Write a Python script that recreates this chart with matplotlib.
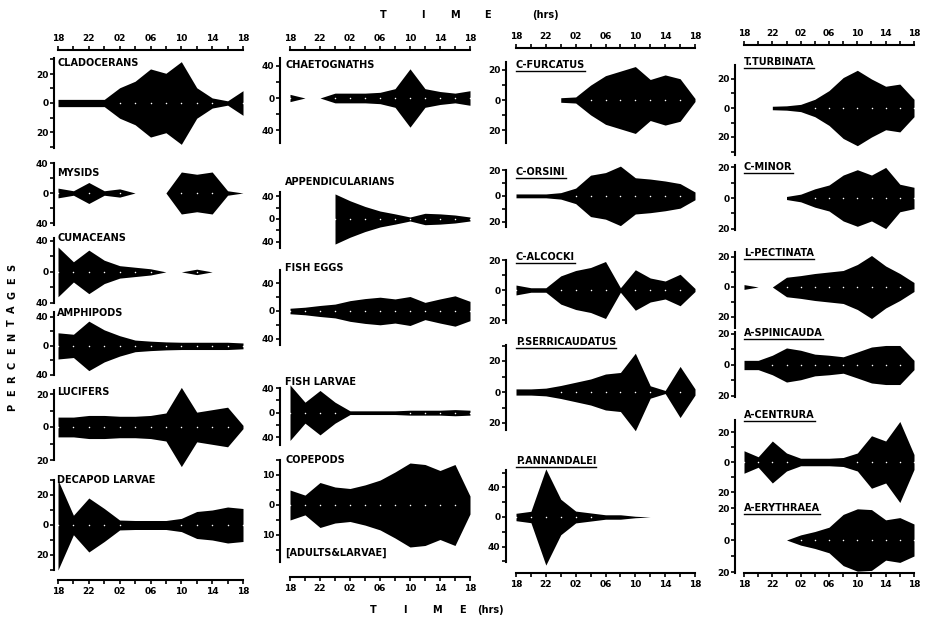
import numpy as np
import matplotlib.pyplot as plt
from matplotlib.lines import Line2D
from matplotlib.ticker import MultipleLocator

W, H = 926, 622
nan = np.nan

# sampling hours counted from 18:00, every 2 h over 24 h
hours = [0, 2, 4, 6, 8, 10, 12, 14, 16, 18, 20, 22, 24]
label_hours = [0, 4, 8, 12, 16, 20, 24]
hour_labels = ["18", "22", "02", "06", "10", "14", "18"]

# half widths of the kites (percentages) at each sampling time
cladocerans = [2.5, 2.5, 2.5, 2.5, 10.5, 15, 23.5, 20.5, 28.5, 10.5, 3.5, 1.5, 8.5]
mysids = [6.5, 3, 14, 3, 5.5, 0, 0, 0, 28, 25, 28, 3, 0]
cumaceans = [32, 13, 28, 15, 8, 6, 4, 0, 0, 3.5, 0, 0, 0]
amphipods = [18, 16, 34, 22, 14, 8, 6.5, 5.5, 5, 5, 5, 5, 4]
lucifers = [6, 6, 7, 7, 6.5, 6.5, 7, 8.5, 24, 9, 10.5, 12, 1]
decapod_larvae = [30, 6.5, 18, 11, 3.3, 3, 3, 3, 4.4, 9, 10, 12, 11]

chaetognaths = [4.5, 0, 0, 6, 6, 6, 7, 11.5, 36, 11.5, 8, 6, 9]
appendicularians = [nan, nan, nan, 44, 32, 22, 14, 9, 3.5, 10, 9, 7, 3.5]
fish_eggs = [4, 5.5, 8, 10, 15, 18, 20, 17.5, 21, 12.5, 17.5, 22, 14]
fish_larvae = [45, 17, 36, 17, 3, 3, 3, 3, 4, 4, 4, 5, 4]
copepods = [5, 3.3, 7.5, 6, 5.5, 6.7, 8.3, 11, 14, 13.5, 11.5, 13.5, 3]

c_furcatus = [nan, nan, nan, 1.5, 2, 9.8, 16, 19, 22, 13.5, 16.5, 14, 1]
c_orsini = [1.5, 1.5, 1.5, 2.5, 6, 16, 18, 23, 14, 13, 11.5, 9.5, 3]
c_alcocki = [3.3, 1.5, 1.5, 9.4, 13, 15, 19, 1.5, 13.5, 8, 6, 10.5, 1]
p_serricaudatus = [2, 2, 2.5, 4.2, 6.3, 8.4, 11.6, 12.6, 25, 4, 1, 16.5, 2]
p_annandalei = [5, 7.7, 65, 24, 8, 5.5, 3, 3, 1, 0, 0, 0, 0]

t_turbinata = [nan, nan, 1.2, 1.5, 2.5, 6, 12, 21, 26, 20, 15, 16.5, 6]
c_minor = [nan, nan, nan, 1, 2.5, 6, 8.5, 15, 18.5, 15, 20, 9, 7]
l_pectinata = [1.6, 0, 0, 6.5, 7.6, 9, 10, 11, 15, 21, 14, 9, 3]
a_spinicauda = [3, 3, 6.3, 11, 9.5, 7, 6.3, 5.3, 8.4, 11.6, 12.6, 12.6, 3]
a_centrura = [7.5, 3.5, 14, 6, 2.5, 2.5, 2.5, 3, 6, 17.5, 14, 27, 5]
a_erythraea = [nan, nan, nan, 0, 3.2, 5.3, 8, 16, 19.5, 19, 12.6, 14, 10]

# layout in pixels: (title, values, zero_y, px_per_unit, spine_top, spine_bottom, tick, title_y)
columns = [
    dict(spine=54, t0=58, t24=243, title_x=57, top_line=50, bottom_line=580, underline=False,
         panels=[("CLADOCERANS", cladocerans, 103, 1.45, 58, 148, 20, 63),
                 ("MYSIDS", mysids, 193, 0.75, 163, 225, 40, 173),
                 ("CUMACEANS", cumaceans, 272, 0.78, 238, 303, 40, 238),
                 ("AMPHIPODS", amphipods, 346, 0.73, 312, 375, 40, 313),
                 ("LUCIFERS", lucifers, 427, 1.65, 390, 460, 20, 392),
                 ("DECAPOD LARVAE", decapod_larvae, 525, 1.5, 480, 570, 20, 480)]),
    dict(spine=280, t0=290, t24=470, title_x=285, top_line=50, bottom_line=577, underline=False,
         panels=[("CHAETOGNATHS", chaetognaths, 98, 0.81, 58, 143, 40, 65),
                 ("APPENDICULARIANS", appendicularians, 219, 0.57, 192, 248, 40, 182),
                 ("FISH EGGS", fish_eggs, 311, 0.69, 270, 345, 40, 268),
                 ("FISH LARVAE", fish_larvae, 412, 0.63, 388, 445, 40, 382),
                 ("COPEPODS", copepods, 505, 3.0, 460, 562, 10, 460)]),
    dict(spine=506, t0=516, t24=695, title_x=516, top_line=48, bottom_line=573, underline=True,
         panels=[("C-FURCATUS", c_furcatus, 100, 1.52, 62, 143, 20, 65),
                 ("C-ORSINI", c_orsini, 195, 1.33, 170, 227, 20, 172),
                 ("C-ALCOCKI", c_alcocki, 290, 1.5, 260, 323, 20, 257),
                 ("P.SERRICAUDATUS", p_serricaudatus, 392, 1.55, 345, 430, 20, 342),
                 ("P.ANNANDALEI", p_annandalei, 517, 0.74, 470, 562, 40, 461)]),
    dict(spine=735, t0=744, t24=914, title_x=744, top_line=45, bottom_line=573, underline=True,
         panels=[("T.TURBINATA", t_turbinata, 108, 1.45, 65, 155, 20, 62),
                 ("C-MINOR", c_minor, 198, 1.53, 165, 230, 20, 167),
                 ("L-PECTINATA", l_pectinata, 287, 1.5, 252, 328, 20, 253),
                 ("A-SPINICAUDA", a_spinicauda, 365, 1.55, 332, 397, 20, 333),
                 ("A-CENTRURA", a_centrura, 462, 1.5, 420, 505, 20, 415),
                 ("A-ERYTHRAEA", a_erythraea, 540, 1.6, 505, 573, 20, 508)]),
]

FONT = dict(family="DejaVu Sans", weight="bold", color="black")

fig = plt.figure(figsize=(W / 100, H / 100), dpi=100)
fig.patch.set_facecolor("white")


def time_axis(col, y_line, top):
    t0, t24 = col["t0"], col["t24"]
    if top:
        ax = fig.add_axes([t0 / W, 1 - (y_line + 2) / H, (t24 - t0) / W, 2 / H])
        ax.xaxis.tick_top()
        keep = "top"
    else:
        ax = fig.add_axes([t0 / W, 1 - y_line / H, (t24 - t0) / W, 2 / H])
        keep = "bottom"
    ax.set_facecolor("none")
    for s in ax.spines:
        ax.spines[s].set_visible(s == keep)
    ax.spines[keep].set_linewidth(1.5)
    ax.set_xlim(0, 24)
    ax.set_yticks([])
    ax.set_xticks(label_hours)
    ax.set_xticklabels(hour_labels, fontsize=6.5, **FONT)
    ax.xaxis.set_minor_locator(MultipleLocator(2))
    ax.tick_params(axis="x", which="both", direction="out", length=3, width=1.2, pad=2)


underlined = []
for col in columns:
    time_axis(col, col["top_line"], True)
    time_axis(col, col["bottom_line"], False)
    span = col["t24"] - col["t0"]
    left = col["spine"]
    right = col["t24"] + 4
    for title, vals, zero, unit, top, bottom, tick, title_y in col["panels"]:
        ax = fig.add_axes([left / W, 1 - bottom / H, (right - left) / W, (bottom - top) / H])
        ax.set_facecolor("none")
        ax.set_xlim((left - col["t0"]) / span * 24, (right - col["t0"]) / span * 24)
        ax.set_ylim(-(bottom - zero) / unit, (zero - top) / unit)
        v = np.array(vals, dtype=float)
        ax.fill_between(hours, -v, v, color="black", lw=0, clip_on=False)
        h = np.array(hours)
        dots = np.nan_to_num(v) > 3
        ax.scatter(h[dots], np.zeros(dots.sum()), s=1.2, color="white", lw=0, zorder=3, clip_on=False)
        for s in ["top", "right", "bottom"]:
            ax.spines[s].set_visible(False)
        ax.spines["left"].set_linewidth(1.5)
        ax.set_xticks([])
        ax.set_yticks([-tick, 0, tick])
        ax.set_yticklabels([str(tick), "0", str(tick)], fontsize=6.5, **FONT)
        ax.yaxis.set_minor_locator(MultipleLocator(tick / 2))
        ax.tick_params(axis="y", which="both", direction="out", length=3, width=1.2, pad=1)
        t = fig.text(col["title_x"] / W, 1 - title_y / H, title, fontsize=7, va="center", **FONT)
        if col["underline"]:
            underlined.append(t)

fig.text(285 / W, 1 - 553 / H, "[ADULTS&LARVAE]", fontsize=7, va="center", **FONT)

for ch, x in [("T", 383), ("I", 423), ("M", 455), ("E", 487), ("(hrs)", 545)]:
    fig.text(x / W, 1 - 15 / H, ch, fontsize=7, ha="center", va="center", **FONT)
for ch, x in [("T", 373), ("I", 405), ("M", 437), ("E", 462), ("(hrs)", 490)]:
    fig.text(x / W, 1 - 610 / H, ch, fontsize=7, ha="center", va="center", **FONT)

# vertical "PERCENTAGES", letters spread as in the original
for i, ch in enumerate("PERCENTAGES"):
    fig.text(12 / W, 1 - (407 - i * 14) / H, ch, fontsize=7, rotation=90,
             ha="center", va="center", **FONT)

# underline the species names
fig.canvas.draw()
for t in underlined:
    bb = t.get_window_extent()
    y = bb.y0 - 1
    fig.add_artist(Line2D([bb.x0 / W, bb.x1 / W], [y / H, y / H], color="black", lw=1.0,
                          transform=fig.transFigure))

fig.savefig("out.png", dpi=100)
